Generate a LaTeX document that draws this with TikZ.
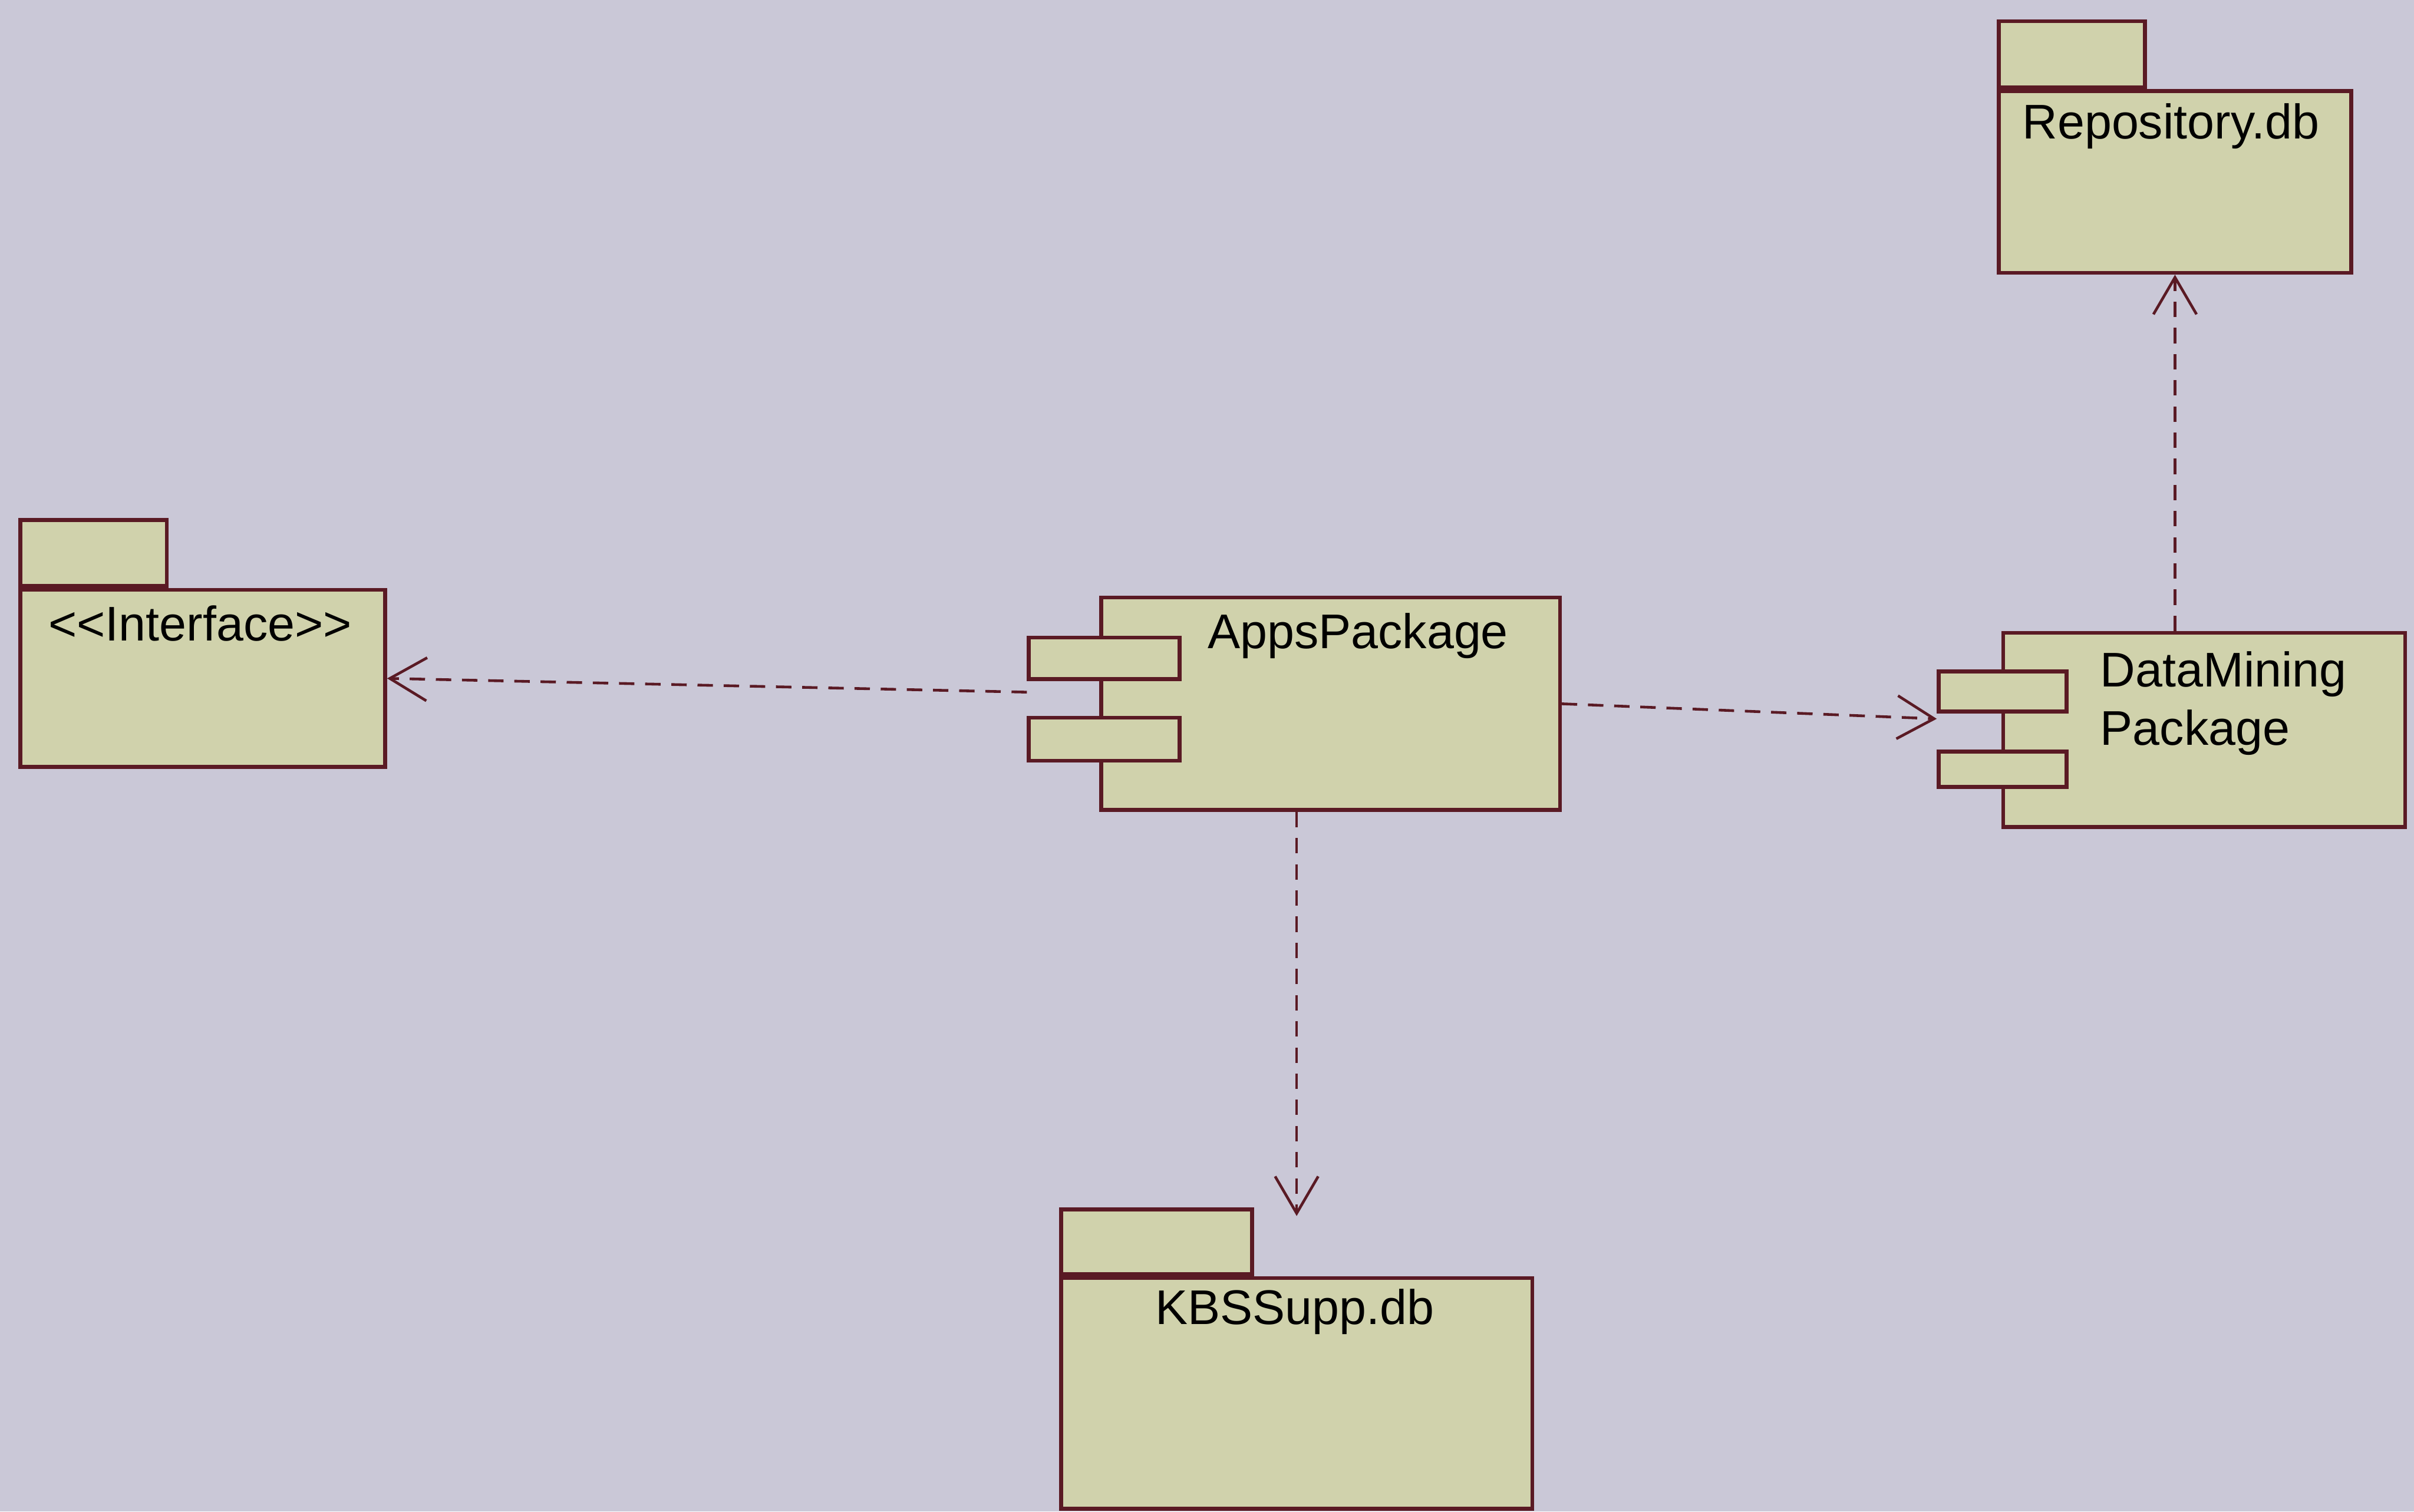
\documentclass[tikz,border=0pt]{standalone}
\usepackage{fontspec}
\setmainfont{Liberation Sans}
\usetikzlibrary{positioning,arrows.meta,calc}
\definecolor{bg}{HTML}{CAC8D7}
\definecolor{pkgfill}{HTML}{D0D2AC}
\definecolor{umlline}{HTML}{5A1A24}

\begin{document}
\begin{tikzpicture}[
  font=\fontsize{9}{10.8}\selectfont, >={Straight Barb[length=2.4mm,width=2.8mm]},
  pkg/.style={draw=umlline, fill=pkgfill, line width=0.7pt, inner sep=0pt, anchor=north west},
  tab/.style={pkg, anchor=south west, minimum height=0.43cm},
  port/.style={pkg, minimum width=0.98cm, minimum height=0.27cm},
  title/.style={inner sep=1pt, text=black},
  dep/.style={->, umlline, line width=0.5pt, dash pattern=on 1mm off 0.7mm}]

\useasboundingbox (0,0) rectangle (15.68,-9.82);
\clip (0,0) rectangle (15.68,-9.82);
\fill[bg] (0,0) rectangle (15.68,-9.82);

% packages
\node (repo) [pkg, minimum width=2.29cm, minimum height=1.18cm] at (12.97,-0.58) {};
\node (repotab) [tab, minimum width=0.95cm] at (repo.north west) {};
\node (repotitle) [title] at (14.10,-0.82) {Repository.db};

\node (iface) [pkg, minimum width=2.37cm, minimum height=1.15cm] at (0.12,-3.82) {};
\node (ifacetab) [tab, minimum width=0.95cm] at (iface.north west) {};
\node (ifacetitle) [title] at (1.30,-4.05) {{<}{<}Interface{>}{>}};

\node (kbss) [pkg, minimum width=3.06cm, minimum height=1.50cm] at (6.88,-8.29) {};
\node (kbsstab) [tab, minimum width=1.24cm, minimum height=0.42cm] at (kbss.north west) {};
\node (kbsstitle) [title] at (8.41,-8.52) {KBSSupp.db};

% components
\node (apps) [pkg, minimum width=2.98cm, minimum height=1.38cm] at (7.14,-3.87) {};
\node (apps1) [port] at (6.67,-4.13) {};
\node (apps2) [port, minimum height=0.28cm] at (6.67,-4.65) {};
\node (appstitle) [title] at (8.82,-4.13) {AppsPackage};

\node (dm) [pkg, minimum width=2.61cm, minimum height=1.26cm] at (13.00,-4.10) {};
\node (dm1) [port, minimum width=0.83cm, minimum height=0.26cm] at (12.58,-4.35) {};
\node (dm2) [port, minimum width=0.83cm, minimum height=0.23cm] at (12.58,-4.87) {};
\node (dmtitle) [title, anchor=west, align=left] at (13.60,-4.57) {DataMining\\Package};

\coordinate (appsL) at ($(apps1.south west)!0.32!(apps2.north west)$);
\coordinate (dmL) at ($(dm1.south west)!0.15!(dm2.north west)$);

\draw[dep] (appsL) -- (iface.east);
\draw[dep] (apps.east) -- (dmL);
\draw[dep, shorten >=3.9mm] (kbss.north |- apps.south) -- (kbss.north);
\draw[dep] (repo.south |- dm.north) -- (repo.south);
\end{tikzpicture}
\end{document}
